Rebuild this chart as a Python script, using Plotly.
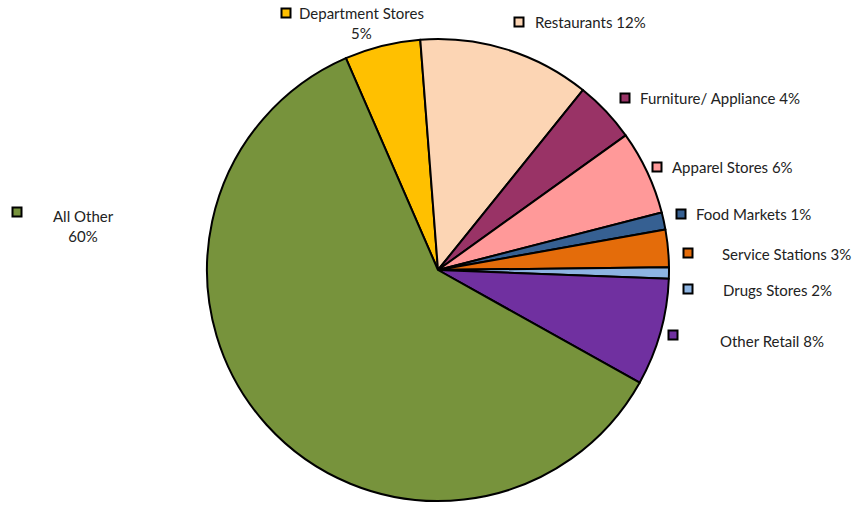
import plotly.graph_objects as go

# ---- data ----
categories = ["Department Stores", "Restaurants", "Furniture/ Appliance", "Apparel Stores",
              "Food Markets", "Service Stations", "Drugs Stores", "Other Retail", "All Other"]
values = [5.3, 12.0, 4.3, 5.9, 1.2, 2.6, 0.8, 7.5, 60.3]
pct_labels = ["5%", "12%", "4%", "6%", "1%", "3%", "2%", "8%", "60%"]
colors = ["#FFC000", "#FCD5B4", "#993366", "#FF9999", "#366092",
          "#E46C0A", "#8DB4E2", "#7030A0", "#77933C"]

# ---- layout helpers (pixel positions of label boxes) ----
W, H = 853, 506
cx, cy, R = 438, 270, 231
# (square center x, square center y, text x, text y, text anchor, two-line)
label_pos = [
    (286, 13, 361, 23, "center", True),
    (519, 22, 533, 22, "left", False),
    (625, 98, 638, 98, "left", False),
    (657, 167, 670, 167, "left", False),
    (681, 214, 694, 214, "left", False),
    (688, 253, 720, 254, "left", False),
    (688, 289, 721, 290, "left", False),
    (673, 335, 718, 341, "left", False),
    (17, 212, 83, 226, "center", True),
]

def px(x):
    return x / W

def py(y):
    return 1 - y / H

fig = go.Figure(go.Pie(
    labels=categories,
    values=values,
    sort=False,
    direction="clockwise",
    rotation=-23.5,
    marker=dict(colors=colors, line=dict(color="black", width=2)),
    textinfo="none",
    hoverinfo="label+percent",
    domain=dict(x=[px(cx - R), px(cx + R)], y=[py(cy + R), py(cy - R)]),
))

font = dict(family="Lato, Open Sans, sans-serif", size=15, color="#222222")
shapes = []
annotations = []
for cat, pct, col, (sx, sy, tx, ty, anchor, two) in zip(categories, pct_labels, colors, label_pos):
    s = 4.5
    shapes.append(dict(type="rect", xref="paper", yref="paper",
                       x0=px(sx - s), x1=px(sx + s), y0=py(sy + s), y1=py(sy - s),
                       fillcolor=col, line=dict(color="black", width=2)))
    text = f"{cat}<br>{pct}" if two else f"{cat} {pct}"
    annotations.append(dict(xref="paper", yref="paper", x=px(tx), y=py(ty),
                            text=text, showarrow=False, xanchor=anchor, yanchor="middle",
                            align="center", font=font))

fig.update_layout(
    width=W, height=H,
    margin=dict(l=0, r=0, t=0, b=0),
    paper_bgcolor="white", plot_bgcolor="white",
    showlegend=False,
    shapes=shapes,
    annotations=annotations,
)

fig.write_html("out.html",
               config={"displayModeBar": False},
               post_script="document.body.style.margin='0';document.body.style.overflow='hidden';")
